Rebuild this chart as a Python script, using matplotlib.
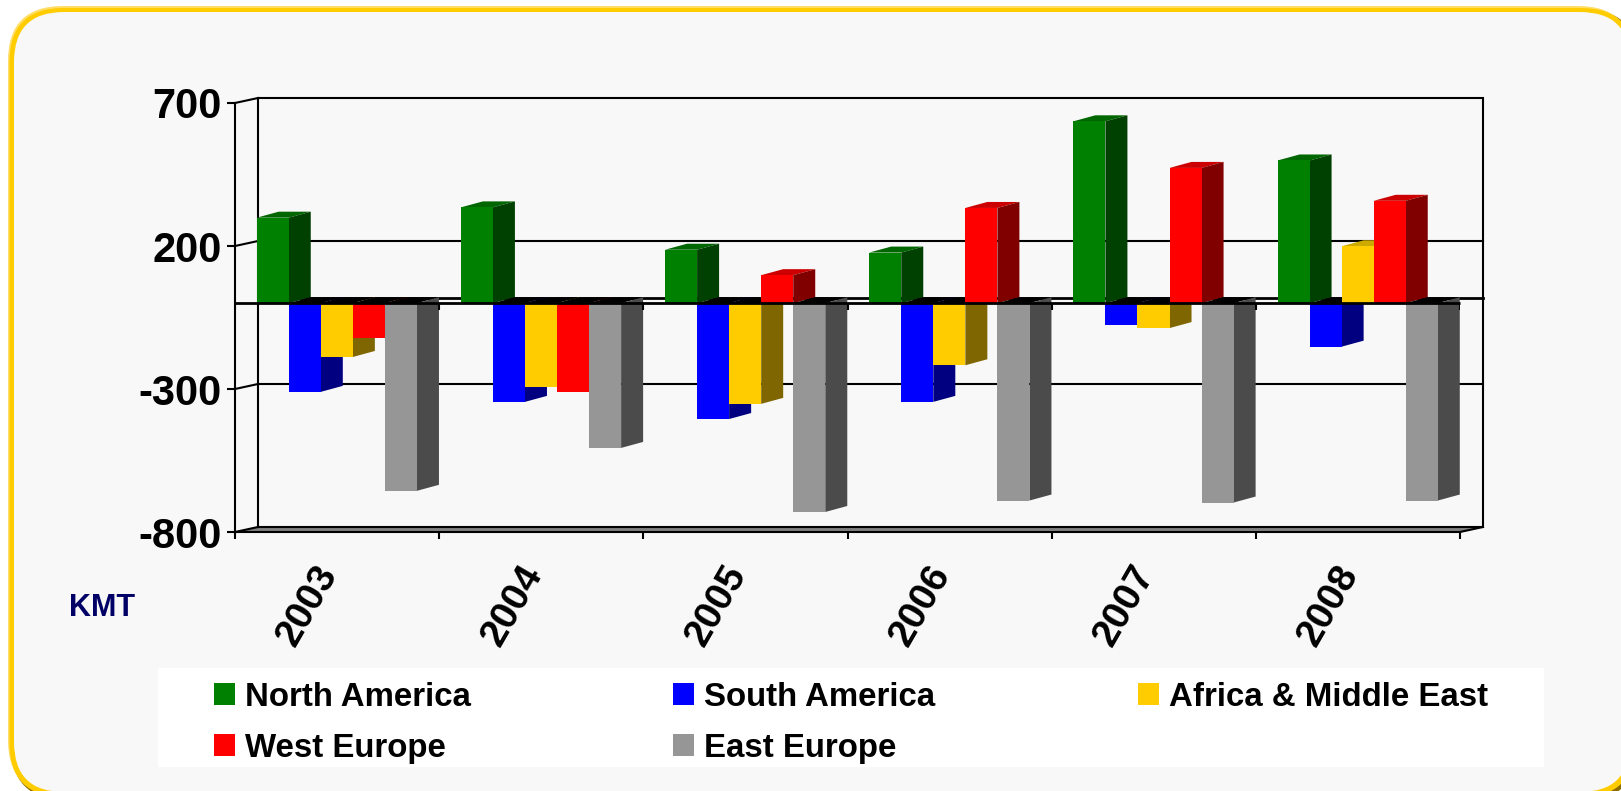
import matplotlib
matplotlib.use("Agg")
import matplotlib.pyplot as plt
from matplotlib.patches import FancyBboxPatch, Rectangle, Patch
from matplotlib.transforms import ScaledTranslation, IdentityTransform

plt.rcParams['font.family'] = ['Liberation Sans', 'DejaVu Sans']
plt.rcParams['font.weight'] = 'bold'

years = ['2003', '2004', '2005', '2006', '2007', '2008']
north_america = [299, 335, 187, 177, 636, 499]
south_america = [-310, -345, -405, -345, -76, -152]
africa_me = [-188, -293, -352, -217, -87, 199]
west_europe = [-121, -310, 98, 333, 473, 358]
east_europe = [-656, -506, -730, -690, -697, -690]
y_ticks = [700, 200, -300, -800]

series = [
    ('North America', north_america, '#008000', '#004000', '#006600'),
    ('South America', south_america, '#0000ff', '#000080', '#0000cc'),
    ('Africa & Middle East', africa_me, '#ffcc00', '#806600', '#ccaa00'),
    ('West Europe', west_europe, '#ff0000', '#800000', '#cc0000'),
    ('East Europe', east_europe, '#969696', '#4b4b4b', '#787878'),
]

W, H = 1621, 791
fig = plt.figure(figsize=(W / 100, H / 100), dpi=100, facecolor='white')


def rounded(x0, y0, x1, y1, r, **kw):
    p = FancyBboxPatch((x0 + r, H - y1 + r), x1 - x0 - 2 * r, y1 - y0 - 2 * r,
                       boxstyle=f'round,pad={r},rounding_size={r}',
                       transform=IdentityTransform(), zorder=-5, linewidth=0, **kw)
    fig.add_artist(p)


rounded(11, 9, 1638, 800, 55, facecolor='#8a6d00')
rounded(8, 6, 1633, 795, 55, facecolor='#ffdd66')
rounded(9.5, 8, 1635, 797, 54, facecolor='#ffcc00')
rounded(14, 12, 1630, 792, 50, facecolor='#f8f8f8')

fig.add_artist(Rectangle((158, H - 767), 1386, 99, transform=IdentityTransform(),
                         facecolor='white', edgecolor='none', zorder=-4))

L, R, T, B = 235, 1460, 103, 532
ax = fig.add_axes([L / W, 1 - B / H, (R - L) / W, (B - T) / H])
ax.patch.set_visible(False)
ax.set_xlim(0, 6)
ax.set_ylim(-800, 700)

px_x = 6 / (R - L)
px_y = 1500 / (B - T)
wall_dx, wall_dy = 23 * px_x, 5 * px_y
bar_dx, bar_dy = 22 * px_x, 6 * px_y
bar_w = 32.05 * px_x
gap = 21.7 * px_x
lw = 1.5

# back wall, floor, left wall
ax.fill([0, 6, 6 + wall_dx, wall_dx], [-800, -800, -800 + wall_dy, -800 + wall_dy],
        color='#808080', lw=0, zorder=1, clip_on=False)
ax.plot([wall_dx, wall_dx, 6 + wall_dx, 6 + wall_dx, wall_dx],
        [-800 + wall_dy, 700 + wall_dy, 700 + wall_dy, -800 + wall_dy, -800 + wall_dy],
        color='black', lw=lw, zorder=1.5, clip_on=False, solid_joinstyle='miter')
for v in y_ticks:
    ax.plot([0, wall_dx], [v, v + wall_dy], color='black', lw=lw, zorder=1.5, clip_on=False)
    if v not in (700, -800):
        ax.plot([wall_dx, 6 + wall_dx], [v + wall_dy] * 2, color='black', lw=lw, zorder=1.5, clip_on=False)
ax.plot([wall_dx, 6 + wall_dx], [wall_dy] * 2, color='black', lw=2, zorder=1.5, clip_on=False)
ax.plot([6, 6 + wall_dx], [-800, -800 + wall_dy], color='black', lw=lw, zorder=1.6, clip_on=False)

# bars
z = 3.0
for g in range(len(years)):
    for s, (name, vals, face, side, top) in enumerate(series):
        v = vals[g]
        x0 = g + gap + s * bar_w
        x1 = x0 + bar_w
        y_top = max(v, 0)
        ax.fill([x0, x1, x1 + bar_dx, x0 + bar_dx], [y_top, y_top, y_top + bar_dy, y_top + bar_dy],
                color=top if v > 0 else 'black', lw=0, zorder=z, clip_on=False)
        ax.fill([x1, x1 + bar_dx, x1 + bar_dx, x1], [v, v + bar_dy, bar_dy, 0],
                color=side, lw=0, zorder=z + 0.01, clip_on=False)
        ax.bar(x0, v, width=bar_w, align='edge', color=face, lw=0, zorder=z + 0.02)
        z += 0.03

# zero plane line and its ticks
ax.plot([0, 6], [0, 0], color='black', lw=2, zorder=20, clip_on=False, solid_capstyle='butt')
ax.vlines(range(0, 7), -7 * px_y, 0, color='black', lw=lw, zorder=20)

for side_name in ('top', 'right'):
    ax.spines[side_name].set_visible(False)
for side_name in ('left', 'bottom'):
    ax.spines[side_name].set_linewidth(lw)
    ax.spines[side_name].set_zorder(21)

ax.set_yticks(y_ticks)
ax.set_yticklabels([str(v) for v in y_ticks], fontsize=30, fontweight='bold')
ax.tick_params(axis='y', length=5.8, width=lw, pad=3.5)
ax.set_xticks(range(0, 7))
ax.set_xticklabels([])
ax.tick_params(axis='x', which='major', length=5, width=lw)
ax.set_xticks([i + 0.5 for i in range(6)], minor=True)
ax.set_xticklabels(years, minor=True, fontsize=28, fontweight='bold',
                   rotation=60, ha='center', va='center', rotation_mode='anchor')
ax.tick_params(axis='x', which='minor', length=0, pad=53)
for lab in ax.get_xticklabels(minor=True):
    lab.set_transform(lab.get_transform() + ScaledTranslation(-0.29, 0, fig.dpi_scale_trans))

fig.text(69 / W, 1 - 608 / H, 'KMT', color='#000066', fontsize=22, fontweight='bold',
         ha='left', va='center')

order = [0, 3, 1, 4, 2]
handles = [Patch(facecolor=series[i][2], edgecolor='none', label=series[i][0]) for i in order]
leg = ax.legend(handles=handles, ncol=3, frameon=False, loc='upper left',
                bbox_to_anchor=(214 / W, 1 - 682 / H), bbox_transform=fig.transFigure,
                borderpad=0, borderaxespad=0,
                handlelength=0.64, handleheight=0.64, handletextpad=0.3,
                columnspacing=6.12, labelspacing=0.6,
                prop={'weight': 'bold', 'size': 23.8})

fig.savefig('out.png', dpi=100, facecolor=fig.get_facecolor())
